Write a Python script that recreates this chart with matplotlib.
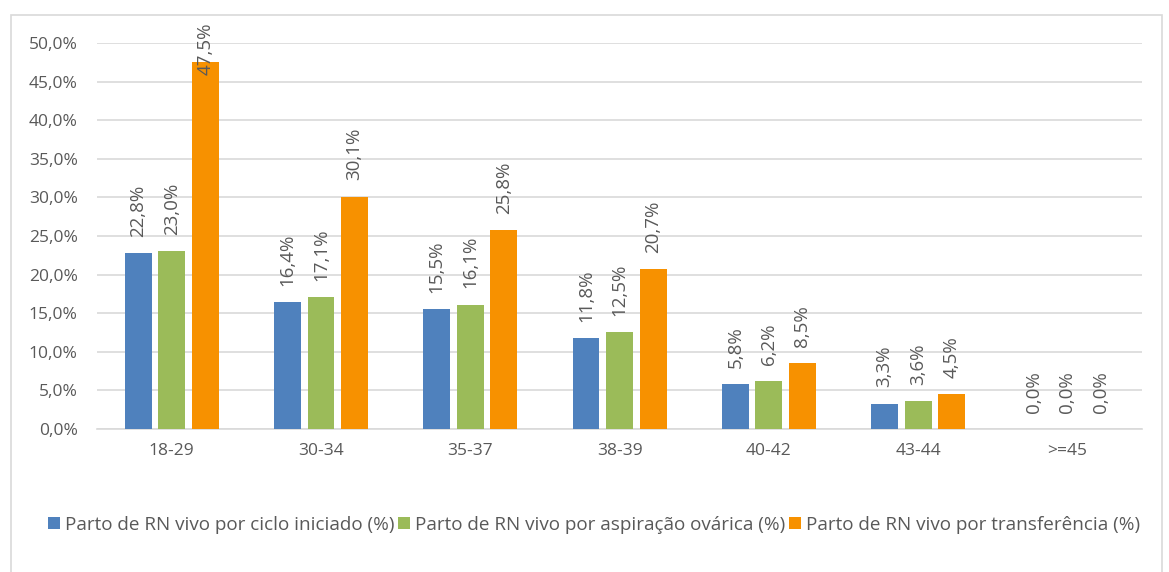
import matplotlib.pyplot as plt
import numpy as np
from matplotlib.patches import Rectangle

# dados
categorias = ['18-29', '30-34', '35-37', '38-39', '40-42', '43-44', '>=45']
ciclo_iniciado = [22.8, 16.4, 15.5, 11.8, 5.8, 3.3, 0.0]
aspiracao = [23.0, 17.1, 16.1, 12.5, 6.2, 3.6, 0.0]
transferencia = [47.5, 30.1, 25.8, 20.7, 8.5, 4.5, 0.0]
series_nomes = ['Parto de RN vivo por ciclo iniciado (%)',
                'Parto de RN vivo por aspiração ovárica (%)',
                'Parto de RN vivo por transferência (%)']
cores = ['#4F81BD', '#9BBB59', '#F79100']
cinza = '#595959'

plt.rcParams['font.family'] = ['Open Sans', 'DejaVu Sans']

fig = plt.figure(figsize=(11.69, 5.72), dpi=100)
ax = fig.add_axes([0.083, 0.25, 0.894, 0.675])

x = np.arange(len(categorias))
largura = 0.18
passo = 0.225
for i, (vals, nome, cor) in enumerate(zip([ciclo_iniciado, aspiracao, transferencia], series_nomes, cores)):
    pos = x + (i - 1) * passo
    ax.bar(pos, vals, width=largura, color=cor, label=nome, zorder=3)
    for p, v in zip(pos, vals):
        # rótulo acima da barra; se não couber, desce (como no Excel)
        base = min(v + 2.1, 45.9)
        ax.text(p, base, f'{v:.1f}%'.replace('.', ','), rotation=90,
                ha='center', va='bottom', fontsize=13.5, color=cinza,
                clip_on=False, zorder=4)

ax.set_ylim(0, 50)
ax.set_xlim(-0.5, len(categorias) - 0.5)
ax.set_yticks(np.arange(0, 51, 5))
ax.set_yticklabels([f'{t:.1f}%'.replace('.', ',') for t in np.arange(0, 51, 5)])
ax.set_xticks(x)
ax.set_xticklabels(categorias)
ax.tick_params(axis='both', length=0, labelsize=12.5, colors=cinza)
ax.tick_params(axis='x', pad=10)
ax.tick_params(axis='y', pad=14)
ax.grid(axis='y', color='#D9D9D9', linewidth=1.2, zorder=0)
for s in ['top', 'right', 'left']:
    ax.spines[s].set_visible(False)
ax.spines['bottom'].set_color('#D9D9D9')
ax.spines['bottom'].set_linewidth(1.2)

fig.legend(loc='center', bbox_to_anchor=(0.508, 0.083), ncol=3, frameon=False,
           fontsize=13.6, labelcolor=cinza, handlelength=0.65, handleheight=0.65,
           handletextpad=0.25, columnspacing=0.2)

fig.patches.append(Rectangle((0.009, -0.05), 0.985, 1.023, transform=fig.transFigure,
                             fill=False, edgecolor='#D9D9D9', linewidth=1.2))

fig.savefig('out.png', dpi=100)
